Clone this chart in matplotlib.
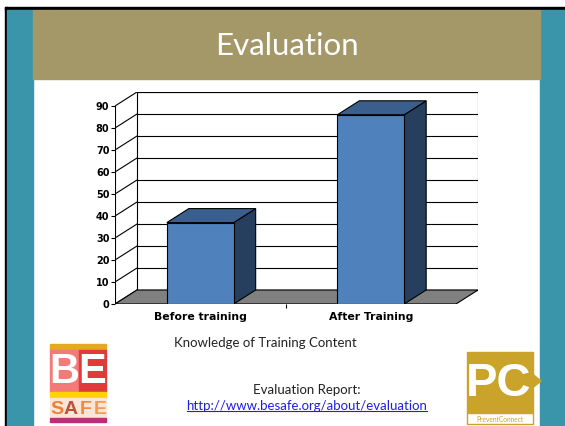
import matplotlib
matplotlib.use("Agg")
import matplotlib.pyplot as plt
from matplotlib.patches import Rectangle, Polygon

# ---------------- data ----------------
categories = ["Before training", "After Training"]
values = [37, 86]
yticks = list(range(0, 100, 10))
title = "Evaluation"
xlabel = "Knowledge of Training Content"
report_label = "Evaluation Report:"
report_url = "http://www.besafe.org/about/evaluation"

# ---------------- style ----------------
TEAL = "#3A95AA"
OLIVE = "#A59868"
FRONT = "#4F81BD"
TOP = "#3B5F8D"
SIDE = "#263F5F"
FLOOR = "#808080"
W, H = 565, 426

fig = plt.figure(figsize=(W / 100, H / 100), dpi=100)

# slide background in pixel coordinates
bg = fig.add_axes([0, 0, 1, 1])
bg.set_xlim(0, W)
bg.set_ylim(H, 0)
bg.axis("off")
bg.add_patch(Rectangle((0, 0), W, H, color="white"))
bg.add_patch(Rectangle((5, 7), W - 5, 3, color="black"))
bg.add_patch(Rectangle((5, 7), 2, H - 7, color="black"))
bg.add_patch(Rectangle((7, 10), 26, H - 10, color=TEAL))
bg.add_patch(Rectangle((540, 10), 25, H - 10, color=TEAL))
bg.add_patch(Rectangle((33, 10), 507, 69, color=OLIVE))
bg.text(287, 46, title, color="white", fontsize=22.5, family="Lato",
        ha="center", va="center")

bg.text(265, 343, xlabel, fontsize=9.5, family="Lato", ha="center", va="center",
        color="#222222")
bg.text(307, 390, report_label, fontsize=9.5, family="Lato", ha="center",
        va="center", color="#222222")
url_t = bg.text(307, 406, report_url, fontsize=9.5, family="Lato", ha="center",
                va="center", color="#1F1FE0")

# BE SAFE logo
bg.add_patch(Rectangle((50, 344), 56, 6, color="#E5A823"))
bg.add_patch(Rectangle((50, 350), 29, 42, color="#F47A78"))
bg.add_patch(Rectangle((79, 350), 27, 42, color="#E03A3A"))
bg.text(64, 372, "B", color="white", fontsize=30, fontweight="bold",
        family="Liberation Sans", ha="center", va="center")
bg.text(92, 372, "E", color="white", fontsize=30, fontweight="bold",
        family="Liberation Sans", ha="center", va="center")
bg.add_patch(Rectangle((50, 392), 56, 6, color="#FFD400"))
bg.add_patch(Rectangle((50, 398), 56, 20, color="#F9E6D6"))
for ch, xx, col in [("S", 57, "#E8823A"), ("A", 71, "#C0503A"),
                    ("F", 86, "#F08A40"), ("E", 100, "#F59A50")]:
    bg.text(xx, 409, ch, color=col, fontsize=14, fontweight="bold",
            family="Liberation Sans", ha="center", va="center")
bg.add_patch(Rectangle((50, 418), 56, 4, color="#B8307A"))

# PreventConnect logo
bg.add_patch(Rectangle((467, 352), 66, 61, color="#C9A32A"))
bg.add_patch(Polygon([(525, 368), (541, 381), (525, 394)], color="#C9A32A"))
bg.add_patch(Rectangle((467, 413), 66, 11, facecolor="white", edgecolor="#C9A32A",
                       lw=1))
bg.text(499, 384, "PC", color="white", fontsize=34, fontweight="bold",
        family="Liberation Sans Narrow" if False else "Liberation Sans",
        ha="center", va="center")
bg.text(500, 419, "PreventConnect", color="#C9A32A", fontsize=4.8,
        family="Lato", ha="center", va="center")

# ---------------- 3D-style chart ----------------
PX_X = 341.0      # pixels per x unit
PX_Y = 2.2        # pixels per value unit
DX = 22 / PX_X    # depth offset in x units
DY = 14 / PX_Y    # depth offset in value units
ymax = yticks[-1]

ax = fig.add_axes([115 / W, (H - 304) / H, PX_X * (1 + DX) / W,
                   PX_Y * (ymax + DY) / H])
ax.set_xlim(0, 1 + DX)
ax.set_ylim(0, ymax + DY)
ax.patch.set_alpha(0)
for s in ax.spines.values():
    s.set_visible(False)

lw = 0.8
# back wall
ax.add_patch(Rectangle((DX, DY), 1, ymax, facecolor="white", edgecolor="black",
                       lw=lw, zorder=1))
for v in yticks:
    ax.plot([DX, 1 + DX], [v + DY, v + DY], color="black", lw=lw, zorder=2)
    ax.plot([0, DX], [v, v + DY], color="black", lw=lw, zorder=2)
ax.plot([0, 0], [0, ymax], color="black", lw=lw, zorder=2)

# floor
ax.add_patch(Polygon([(0, 0), (1, 0), (1 + DX, DY), (DX, DY)], closed=True,
                     facecolor=FLOOR, edgecolor="black", lw=lw, zorder=3))

# bars
n = len(categories)
pos = [(i + 0.5) / n for i in range(n)]
bw = 0.196
for c, v in zip(pos, values):
    x0, x1 = c - bw / 2, c + bw / 2
    ax.add_patch(Polygon([(x1, 0), (x1 + DX, DY), (x1 + DX, v + DY), (x1, v)],
                         facecolor=SIDE, edgecolor="black", lw=lw, zorder=4))
    ax.add_patch(Polygon([(x0, v), (x1, v), (x1 + DX, v + DY), (x0 + DX, v + DY)],
                         facecolor=TOP, edgecolor="black", lw=lw, zorder=4))
    ax.add_patch(Rectangle((x0, 0), bw, v, facecolor=FRONT, edgecolor="black",
                           lw=lw, zorder=5))

ax.set_yticks(yticks)
ax.set_yticklabels([str(t) for t in yticks], fontsize=7, fontweight="bold",
                   family="DejaVu Sans")
ax.tick_params(axis="y", length=3, width=lw, pad=1, color="black")
ax.set_xticks(pos)
ax.set_xticklabels(categories, fontsize=7.8, fontweight="bold",
                   family="DejaVu Sans")
ax.set_xticks([0.5], minor=True)
ax.tick_params(axis="x", which="major", length=0, pad=6)
ax.tick_params(axis="x", which="minor", length=3, width=lw, color="black")

# underline for URL
fig.canvas.draw()
bb = url_t.get_window_extent()
inv = bg.transData.inverted()
(xa, ya), (xb, yb) = inv.transform([(bb.x0, bb.y0), (bb.x1, bb.y0)])
bg.plot([xa, xb], [ya - 1, yb - 1], color="#1F1FE0", lw=0.8)

fig.savefig("out.png", dpi=100)
